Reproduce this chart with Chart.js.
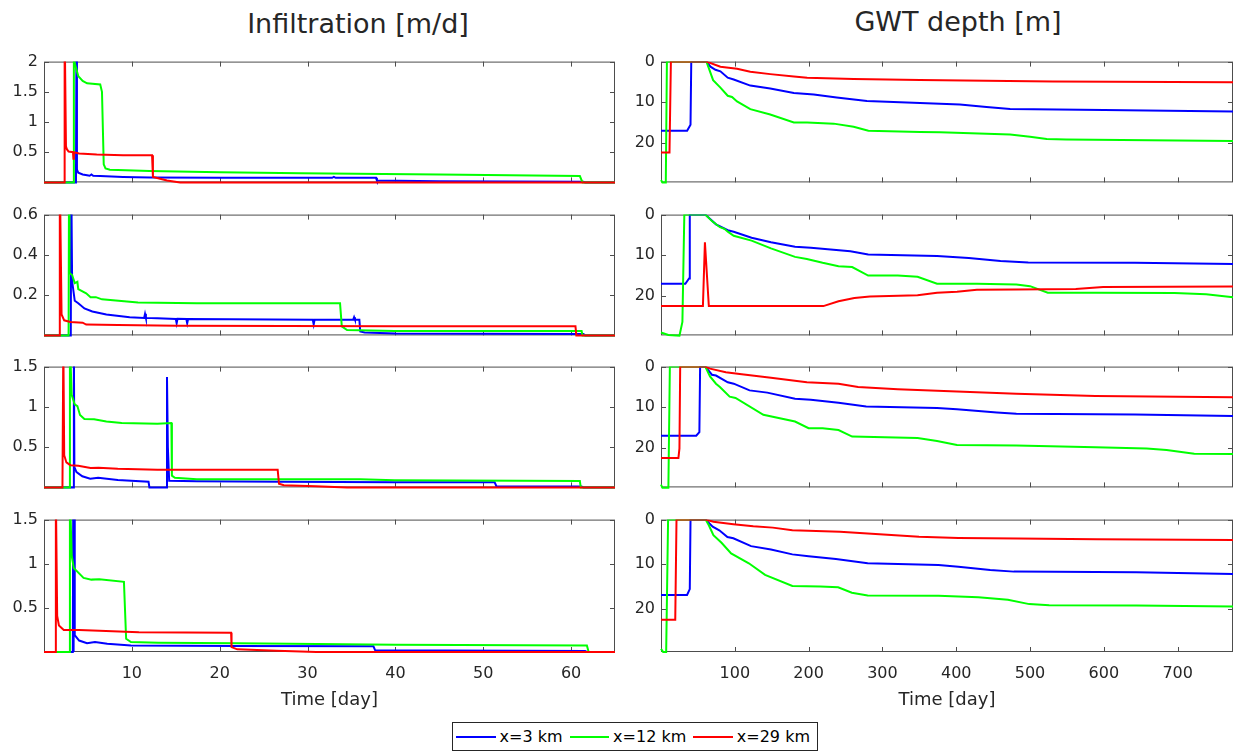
<!DOCTYPE html>
<html>
<head>
<meta charset="utf-8">
<title>Infiltration and GWT depth</title>
<script src="https://cdn.jsdelivr.net/npm/chart.js@4.4.1/dist/chart.umd.min.js"></script>
<style>
  html, body { margin: 0; padding: 0; background: #fff; overflow: hidden; }
  body { width: 1240px; height: 756px; position: relative; font-family: 'DejaVu Sans', sans-serif; color: #262626; }
  canvas { position: absolute; }
  .title { position: absolute; width: 400px; font-size: 27px; line-height: 32px; text-align: center; }
  #legend { position: absolute; left: 452px; top: 722px; width: 366px; height: 29px; box-sizing: border-box;
            border: 1px solid #262626; background: #fff; display: flex; align-items: center;
            padding-left: 3px; font-size: 16px; color: #000; white-space: nowrap; }
  #legend .ln { display: inline-block; width: 41px; height: 2px; margin-right: 4px; }
  #legend .tx { margin-right: 7px; }
</style>
</head>
<body>
<div class="title" style="left:158px; top:8px;">Infiltration [m/d]</div>
<div class="title" style="left:758px; top:6px;">GWT depth [m]</div>

<canvas id="infA" width="625" height="152" style="left:0; top:46px;"></canvas>
<canvas id="infB" width="625" height="152" style="left:0; top:199px;"></canvas>
<canvas id="infC" width="625" height="152" style="left:0; top:351px;"></canvas>
<canvas id="infD" width="625" height="208" style="left:0; top:504px;"></canvas>
<canvas id="gwtA" width="620" height="152" style="left:620px; top:46px;"></canvas>
<canvas id="gwtB" width="620" height="152" style="left:620px; top:199px;"></canvas>
<canvas id="gwtC" width="620" height="152" style="left:620px; top:351px;"></canvas>
<canvas id="gwtD" width="620" height="208" style="left:620px; top:504px;"></canvas>

<div id="legend">
  <span class="ln" style="background:#0000ff"></span><span class="tx">x=3 km</span>
  <span class="ln" style="background:#00ff00"></span><span class="tx">x=12 km</span>
  <span class="ln" style="background:#ff0000"></span><span class="tx">x=29 km</span>
</div>

<script>
// tick values
const dayTicks = [10, 20, 30, 40, 50, 60];
const longTicks = [100, 200, 300, 400, 500, 600, 700];
const infTicksA = [0.5, 1, 1.5, 2];
const infTicksB = [0.2, 0.4, 0.6];
const infTicksCD = [0.5, 1, 1.5];
const gwtTicks = [0, 10, 20];

const seriesNames = ['x=3 km', 'x=12 km', 'x=29 km'];
const seriesColors = ['#0000ff', '#00ff00', '#ff0000'];

// infiltration [m/d] vs time [day], [t, value]
const infA_x3 = [[0,0],[3.64,0],[3.7,2.6],[3.75,0.21],[3.9,0.16],[4.4,0.13],[4.9,0.12],[5.2,0.11],[5.4,0.13],[5.6,0.11],[6.4,0.105],[9,0.09],[12.1,0.08],[20,0.078],[32.8,0.075],[33,0.09],[33.2,0.075],[37.8,0.075],[37.9,0.03],[45,0.02],[61.4,0.012],[61.6,0],[65,0]];
const infA_x12 = [[0,0],[3.34,0],[3.4,2.6],[3.45,2.0],[3.9,1.76],[4.4,1.68],[4.9,1.64],[6.4,1.62],[6.6,1.5],[6.8,0.3],[7.0,0.23],[7.5,0.21],[12,0.19],[20,0.17],[29.2,0.15],[45,0.13],[61,0.105],[61.3,0],[65,0]];
const infA_x29 = [[0,0],[2.31,0],[2.35,2.6],[2.5,0.6],[2.6,0.55],[2.8,0.51],[3.3,0.5],[3.35,0.39],[3.4,0.5],[4,0.48],[6,0.46],[9,0.45],[12.3,0.45],[12.4,0.09],[13,0.07],[14,0.03],[15.5,0],[65,0]];

const infB_x3 = [[0,0],[3.05,0],[3.1,0.8],[3.2,0.27],[3.5,0.172],[3.9,0.16],[4.6,0.134],[5.5,0.119],[7.1,0.104],[9.75,0.09],[11.4,0.087],[11.5,0.107],[11.6,0.087],[12.9,0.085],[15.0,0.082],[15.1,0.06],[15.2,0.082],[16.2,0.081],[16.3,0.06],[16.4,0.081],[30.6,0.078],[30.7,0.055],[30.8,0.078],[35.2,0.078],[35.3,0.09],[35.4,0.078],[35.9,0.078],[36.0,0.02],[36.5,0.015],[40,0.01],[61.4,0.007],[61.6,0],[65,0]];
const infB_x12 = [[0,0],[2.8,0],[2.85,0.8],[2.9,0.31],[3.2,0.3],[3.5,0.26],[3.8,0.266],[3.9,0.23],[4.8,0.209],[5.3,0.19],[5.9,0.19],[6.6,0.179],[10.7,0.164],[17.4,0.16],[33.7,0.16],[33.9,0.045],[34.5,0.027],[39.9,0.022],[61.2,0.022],[61.3,0],[65,0]];
const infB_x29 = [[0,0],[1.75,0],[1.8,0.8],[2.0,0.104],[2.3,0.075],[3.0,0.067],[4.4,0.063],[4.8,0.054],[8.4,0.052],[15.1,0.048],[39.9,0.045],[60.5,0.045],[60.6,0],[65,0]];

const infC_x3 = [[0,0],[3.35,0],[3.4,1.8],[3.46,0.25],[3.7,0.19],[4.36,0.138],[5.26,0.108],[6.16,0.12],[8.4,0.093],[11.9,0.07],[12.0,0],[13.9,0],[14.0,1.37],[14.1,0.5],[14.25,0.082],[17.4,0.075],[27,0.07],[39.9,0.063],[51.3,0.063],[51.5,0.015],[61.2,0.01],[61.4,0],[65,0]];
const infC_x12 = [[0,0],[2.9,0],[2.95,1.8],[3.15,1.15],[3.5,1.03],[3.8,1.01],[4.1,0.9],[4.6,0.85],[5.7,0.847],[7.1,0.817],[8.85,0.8],[12.9,0.79],[14.5,0.8],[14.56,0.146],[14.9,0.12],[17.4,0.1],[36,0.1],[39.9,0.09],[61,0.08],[61.1,0],[65,0]];
const infC_x29 = [[0,0],[2.1,0],[2.2,1.8],[2.3,0.4],[2.55,0.31],[3.0,0.276],[3.9,0.27],[5.3,0.24],[6.2,0.243],[8.4,0.231],[12.9,0.22],[26.6,0.22],[26.75,0.045],[27.3,0.026],[30.9,0.015],[34.5,0],[65,0]];

const infD_x3 = [[0,0],[3.28,0],[3.33,1.8],[3.37,0],[3.42,1.8],[3.5,0.19],[4.0,0.13],[4.9,0.1],[5.8,0.112],[7.2,0.094],[9.9,0.075],[22,0.068],[37.5,0.064],[37.7,0.019],[61.6,0.011],[61.8,0],[65,0]];
const infD_x12 = [[0,0],[2.9,0],[2.95,1.8],[3.15,1.09],[3.4,0.95],[3.6,0.93],[4.5,0.84],[5.4,0.82],[6.3,0.825],[9.1,0.795],[9.35,0.15],[9.9,0.112],[13,0.105],[22,0.1],[40,0.082],[61.8,0.075],[62,0],[65,0]];
const infD_x29 = [[0,0],[1.26,0],[1.35,1.8],[1.5,0.41],[1.7,0.3],[2.25,0.25],[4.0,0.25],[6.3,0.24],[10.8,0.225],[21.3,0.217],[21.35,0.056],[22,0.03],[26.5,0.015],[31,0],[65,0]];

// GWT depth [m] vs time [day], [t, depth]
const gwtA_x3 = [[0,17],[35.4,17],[40,15.5],[41,0],[61.6,0],[67,1.25],[73.8,2.0],[80.5,2.4],[90.4,3.96],[98.5,4.4],[121,5.9],[148,6.6],[180,7.7],[207,8.07],[238,8.8],[279,9.7],[351,10.2],[405,10.55],[441,11.15],[473,11.65],[600,11.9],[775,12.25]];
const gwtA_x12 = [[0,29.1],[2,29.7],[6.5,29.7],[8,0],[61.6,0],[70.6,4.55],[80.5,6.4],[90.4,8.4],[96.2,8.7],[103,9.8],[121,11.7],[148,13.0],[180,14.95],[198,15.0],[234,15.25],[261,16.0],[281,17.0],[351,17.3],[378,17.4],[473,17.9],[500,18.5],[522.6,19.05],[549,19.15],[775,19.5]];
const gwtA_x29 = [[0,22.35],[11.5,22.35],[13.4,0],[61.6,0],[80.5,1.25],[103,1.77],[121,2.5],[148,3.08],[180,3.67],[198,4.0],[261,4.25],[351,4.55],[531,4.9],[775,5.1]];

const gwtB_x3 = [[0,17],[33,17],[38,15.7],[39,0],[60,0],[74.5,2.4],[90.5,3.85],[98.5,4.2],[122.7,5.7],[149,6.8],[181.6,7.9],[203,8.15],[256.6,9.0],[280.7,9.8],[374,10.2],[417,10.7],[460,11.4],[497.6,11.8],[642,11.85],[775,12.15]];
const gwtB_x12 = [[0,29.0],[10,29.6],[25,29.8],[29,26.4],[31.6,0],[60,0],[69,1.6],[79.8,3.1],[86,3.5],[90.5,4.2],[98.5,5.2],[122.7,6.4],[149,8.3],[181.6,10.4],[197.6,10.9],[219,11.85],[240.5,12.7],[259,12.9],[280.7,15.0],[320.8,15.0],[347.6,15.3],[374,17.0],[428,17.0],[481.5,17.2],[500,17.6],[524,19.2],[588.6,19.2],[695.8,19.26],[738.6,19.6],[775,20.3]];
const gwtB_x29 = [[0,22.5],[56.8,22.5],[59.5,6.8],[64.8,22.5],[220,22.5],[240.5,21.3],[262,20.5],[283,20.15],[347.6,19.8],[374,19.2],[401,18.96],[428,18.5],[481.5,18.4],[562,18.3],[599,17.8],[775,17.7]];

const gwtC_x3 = [[0,17],[47.7,17],[52,16.1],[53,0],[60,0],[69,2.0],[74.5,2.2],[90.5,3.85],[98.5,4.2],[120,5.85],[144,6.4],[181.6,7.9],[203,8.15],[240.5,8.9],[278,9.8],[374,10.15],[401,10.5],[455,11.26],[481.5,11.6],[642,11.8],[775,12.15]];
const gwtC_x12 = [[0,29.0],[2,29.8],[10,29.8],[12,0],[60,0],[66.4,2.4],[74.5,4.2],[79.8,5.0],[93,7.4],[101,7.7],[138.7,11.85],[181.6,13.5],[200,15.15],[219,15.15],[240.5,15.6],[259,17.2],[347.6,17.55],[374,18.3],[401,19.26],[481.5,19.4],[588.6,19.8],[658,20.15],[685,20.5],[722.5,21.4],[775,21.5]];
const gwtC_x29 = [[0,22.5],[23.6,22.5],[25,20.1],[26,0],[60,0],[66.4,0.5],[87.8,1.4],[106.6,1.8],[149,2.75],[197.6,3.85],[240.5,4.2],[267,5.0],[320.8,5.55],[401,6.1],[481.5,6.7],[588.6,7.2],[775,7.55]];

const gwtD_x3 = [[0,16.9],[35.3,16.9],[39,15.6],[40,0],[60.5,0],[70,1.6],[79,2.4],[90,3.9],[98,4.2],[122,5.95],[149,6.7],[178,7.8],[200,8.2],[237,8.85],[280,9.8],[376,10.2],[403,10.55],[446,11.3],[478,11.67],[644,11.8],[775,12.2]];
const gwtD_x12 = [[0,29.0],[3,29.7],[7,29.7],[9.6,0],[60.5,0],[64.8,1.26],[71,3.5],[82,5.2],[95,7.6],[119,9.8],[141,12.4],[178,14.9],[216,15.0],[240,15.2],[258.6,16.4],[280,17.0],[376,17.1],[430,17.4],[470,18.0],[499,18.96],[526,19.2],[644,19.26],[775,19.5]];
const gwtD_x29 = [[0,22.45],[19.3,22.45],[21,0],[60.5,0],[71,0.5],[98,1.04],[125,1.5],[151.5,1.8],[178,2.4],[242.5,2.75],[296,3.27],[349.6,3.87],[403,4.1],[483,4.24],[590,4.4],[775,4.6]];

const AXIS_COLOR = '#4d4d4d';

Chart.defaults.font.family = "'DejaVu Sans', sans-serif";
Chart.defaults.color = '#262626';

// box around the plot area with inward tick marks on all four sides
function boxPlugin(xTicks, yTicks) {
    return {
        id: 'box',
        beforeDatasetsDraw(chart) {
            const ctx = chart.ctx;
            const a = chart.chartArea;
            const xs = chart.scales.x, ys = chart.scales.y;
            ctx.save();
            ctx.strokeStyle = AXIS_COLOR;
            ctx.lineWidth = 1;
            ctx.strokeRect(a.left + 0.5, a.top + 0.5, a.right - a.left - 1, a.bottom - a.top - 1);
            ctx.beginPath();
            xTicks.forEach(v => {
                const p = Math.round(xs.getPixelForValue(v)) + 0.5;
                ctx.moveTo(p, a.bottom); ctx.lineTo(p, a.bottom - 5);
                ctx.moveTo(p, a.top); ctx.lineTo(p, a.top + 5);
            });
            yTicks.forEach(v => {
                const p = Math.round(ys.getPixelForValue(v)) + 0.5;
                ctx.moveTo(a.left, p); ctx.lineTo(a.left + 5, p);
                ctx.moveTo(a.right, p); ctx.lineTo(a.right - 5, p);
            });
            ctx.stroke();
            ctx.restore();
        }
    };
}

// Function to create one panel
function createPanel(canvas_id, series, cfg) {
    const datasets = series.map((pts, i) => ({
        label: seriesNames[i],
        data: pts.map(p => ({ x: p[0], y: p[1] })),
        borderColor: seriesColors[i],
        borderWidth: 2,
        pointRadius: 0,
        tension: 0,
        fill: false,
        order: 2 - i,
        clip: { left: 1, top: 0, right: 1, bottom: 2 }
    }));

    new Chart(document.getElementById(canvas_id), {
        type: 'line',
        data: { datasets: datasets },
        options: {
            responsive: false,
            animation: false,
            events: [],
            layout: { padding: { top: 14, right: cfg.padRight, bottom: cfg.bottom ? 0 : 4, left: 0 } },
            plugins: { legend: { display: false }, tooltip: { enabled: false } },
            scales: {
                x: {
                    type: 'linear',
                    min: 0,
                    max: cfg.xMax,
                    display: cfg.bottom,
                    grid: { display: false, drawTicks: false },
                    border: { display: false },
                    ticks: { font: { size: 16 }, padding: 12, autoSkip: false, maxRotation: 0, callback: v => String(v) },
                    afterBuildTicks: s => { s.ticks = cfg.xTicks.map(v => ({ value: v })); },
                    afterFit: s => { s.height = cfg.bottom ? 60 : 0; },
                    title: { display: true, text: 'Time [day]', font: { size: 18 }, padding: { top: 1, bottom: 1 } }
                },
                y: {
                    type: 'linear',
                    min: 0,
                    max: cfg.yMax,
                    reverse: cfg.reverse,
                    grid: { display: false, drawTicks: false },
                    border: { display: false },
                    ticks: { font: { size: 16 }, padding: 6, autoSkip: false, callback: v => String(v) },
                    afterBuildTicks: s => { s.ticks = cfg.yTicks.map(v => ({ value: v })); },
                    afterFit: s => { s.width = cfg.yWidth; }
                }
            }
        },
        plugins: [boxPlugin(cfg.xTicks, cfg.yTicks)]
    });
}

const leftCfg = { xMax: 65, xTicks: dayTicks, yWidth: 44, padRight: 10, reverse: false };
const rightCfg = { xMax: 775, xTicks: longTicks, yWidth: 41, padRight: 7, reverse: true, yMax: 29.7, yTicks: gwtTicks };

createPanel('infA', [infA_x3, infA_x12, infA_x29], { ...leftCfg, yMax: 2, yTicks: infTicksA, bottom: false });
createPanel('infB', [infB_x3, infB_x12, infB_x29], { ...leftCfg, yMax: 0.6, yTicks: infTicksB, bottom: false });
createPanel('infC', [infC_x3, infC_x12, infC_x29], { ...leftCfg, yMax: 1.5, yTicks: infTicksCD, bottom: false });
createPanel('infD', [infD_x3, infD_x12, infD_x29], { ...leftCfg, yMax: 1.5, yTicks: infTicksCD, bottom: true });

createPanel('gwtA', [gwtA_x3, gwtA_x12, gwtA_x29], { ...rightCfg, bottom: false });
createPanel('gwtB', [gwtB_x3, gwtB_x12, gwtB_x29], { ...rightCfg, bottom: false });
createPanel('gwtC', [gwtC_x3, gwtC_x12, gwtC_x29], { ...rightCfg, bottom: false });
createPanel('gwtD', [gwtD_x3, gwtD_x12, gwtD_x29], { ...rightCfg, bottom: true });
</script>
</body>
</html>
